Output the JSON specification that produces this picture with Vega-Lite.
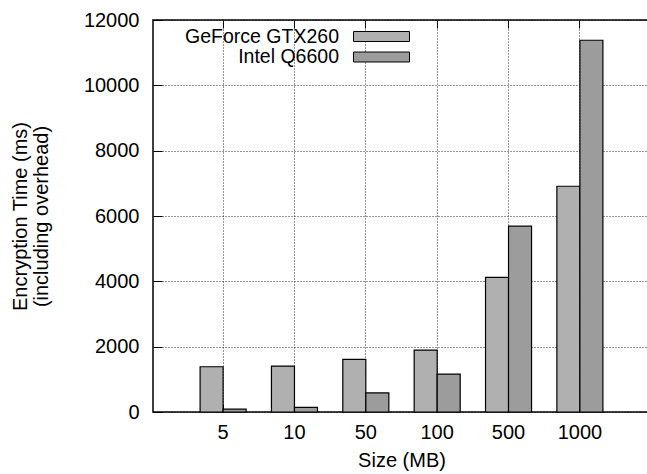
{
  "$schema": "https://vega.github.io/schema/vega-lite/v6.json",
  "width": 497,
  "height": 392,
  "autosize": "none",
  "padding": {"left": 153, "top": 20, "right": 0, "bottom": 62},
  "background": "white",
  "config": {
    "font": "Liberation Sans",
    "view": {"stroke": "black", "strokeWidth": 1.5}
  },
  "data": {
    "values": [
      {"size": "5", "device": "GeForce GTX260", "time": 1385},
      {"size": "5", "device": "Intel Q6600", "time": 85},
      {"size": "10", "device": "GeForce GTX260", "time": 1405},
      {"size": "10", "device": "Intel Q6600", "time": 140},
      {"size": "50", "device": "GeForce GTX260", "time": 1610},
      {"size": "50", "device": "Intel Q6600", "time": 585},
      {"size": "100", "device": "GeForce GTX260", "time": 1895},
      {"size": "100", "device": "Intel Q6600", "time": 1160},
      {"size": "500", "device": "GeForce GTX260", "time": 4120},
      {"size": "500", "device": "Intel Q6600", "time": 5690},
      {"size": "1000", "device": "GeForce GTX260", "time": 6910},
      {"size": "1000", "device": "Intel Q6600", "time": 11380}
    ]
  },
  "layer": [
    {
      "mark": {"type": "bar", "stroke": "black", "strokeWidth": 1.2},
      "encoding": {
        "x": {
          "field": "size", "type": "nominal", "sort": null,
          "scale": {"paddingInner": 0.355, "paddingOuter": 0.66},
          "axis": {
            "title": "Size (MB)", "labelAngle": 0, "grid": true, "gridDash": [1, 2], "gridColor": "black", "gridOpacity": 0.8,
            "tickSize": -8, "tickColor": "black", "domain": false,
            "labelFontSize": 20, "labelColor": "black", "labelPadding": 18,
            "titleFontSize": 20, "titleFontWeight": "normal", "titleColor": "black", "titlePadding": 8
          }
        },
        "xOffset": {"field": "device", "scale": {"paddingInner": 0, "paddingOuter": 0}},
        "y": {
          "field": "time", "type": "quantitative",
          "scale": {"domain": [0, 12000], "nice": false},
          "axis": {
            "title": ["Encryption Time (ms)", "(including overhead)"],
            "values": [0, 2000, 4000, 6000, 8000, 10000, 12000], "format": "d",
            "grid": true, "gridDash": [1, 2], "gridColor": "black", "gridOpacity": 0.8,
            "tickSize": -9, "tickColor": "black", "domain": false,
            "labelFontSize": 20, "labelColor": "black", "labelPadding": 23,
            "titleFontSize": 20, "titleFontWeight": "normal", "titleColor": "black", "titlePadding": 32, "titleLineHeight": 21
          }
        },
        "fill": {
          "field": "device", "type": "nominal",
          "scale": {"range": ["#b0b0b0", "#9c9c9c"]},
          "legend": {
            "orient": "none", "legendX": 186, "legendY": 6, "title": null, "padding": 0,
            "labelFontSize": 19.5, "labelColor": "black", "labelAlign": "right", "labelOffset": -53,
            "symbolType": "M-2.8,-0.5H2.8V0.5H-2.8Z", "symbolSize": 400,
            "symbolStrokeColor": "black", "symbolStrokeWidth": 1, "symbolOffset": 32, "rowPadding": 0.5
          }
        }
      }
    },
    {
      "mark": {"type": "tick", "opacity": 0},
      "encoding": {
        "x": {
          "field": "size", "type": "nominal", "sort": null,
          "axis": {"orient": "top", "labels": false, "title": null, "tickSize": -8, "tickColor": "black", "domain": false, "grid": false}
        }
      }
    }
  ],
  "resolve": {"axis": {"x": "independent"}}
}
